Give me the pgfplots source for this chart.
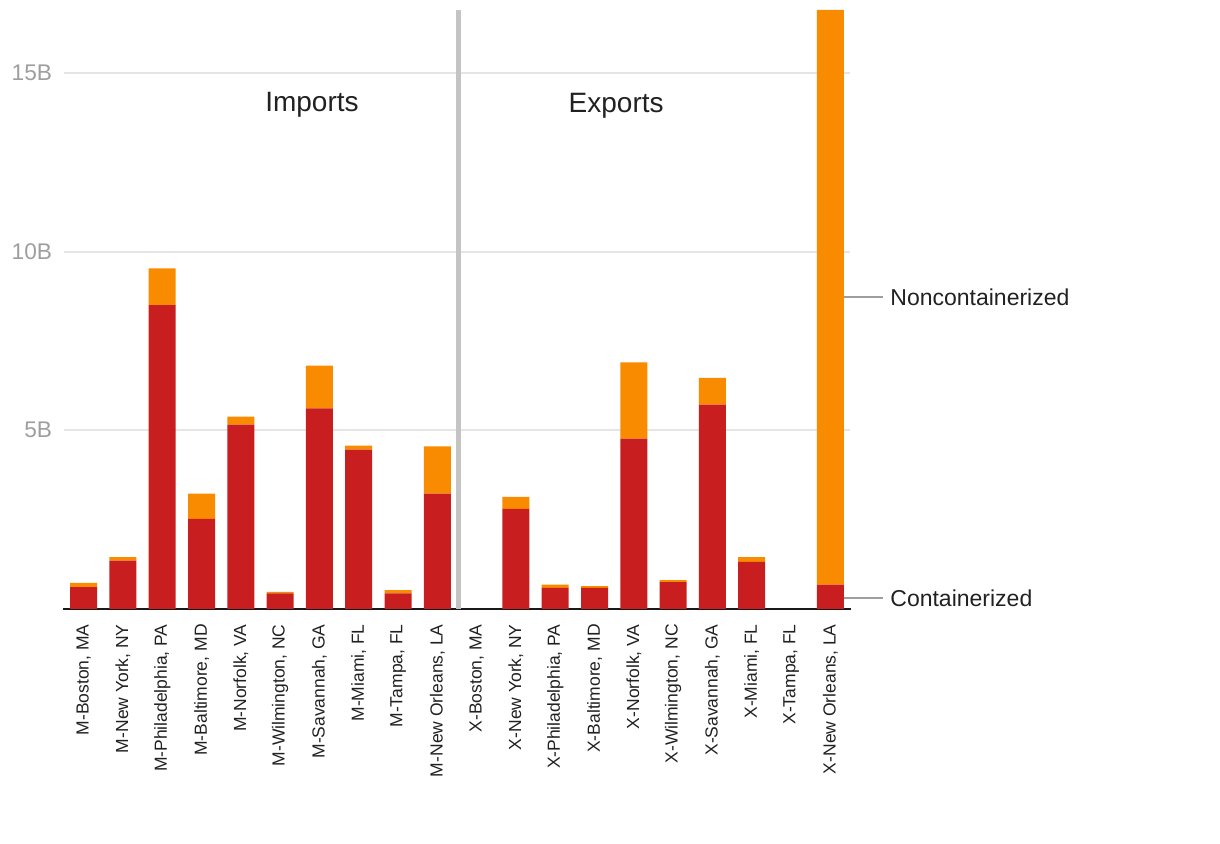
\documentclass[border=0pt]{standalone}
\usepackage{fontspec}
\setmainfont{Liberation Sans}
\usepackage{pgfplots}
\pgfplotsset{compat=1.18}
\definecolor{cred}{RGB}{200,30,31}
\definecolor{corange}{RGB}{248,139,0}
\definecolor{gridc}{RGB}{229,229,229}
\definecolor{tickg}{RGB}{158,158,158}
\definecolor{divc}{RGB}{196,196,196}
\definecolor{txt}{RGB}{33,33,33}
\begin{document}
\begin{tikzpicture}
\path[use as bounding box] (0,0) rectangle (732pt,506.4pt);
\begin{axis}[
 at={(38.4pt,141pt)}, anchor=south west,
 scale only axis, width=471.6pt, height=359.4pt,
 xmin=-0.5, xmax=19.5, ymin=0, ymax=16.76,
 ybar stacked, bar width=16.2pt,
 axis line style={draw=none}, major tick length=0pt,
 ymajorgrids, grid style={gridc, line width=1.1pt},
 ytick={5,10,15}, yticklabels={5B,10B,15B},
 yticklabel style={font=\fontsize{13.6}{13.6}\selectfont, text=tickg, inner sep=0pt, anchor=east},
 yticklabel shift=7pt,
 xtick={0,...,19},
 xticklabels={{M-Boston, MA},{M-New York, NY},{M-Philadelphia, PA},{M-Baltimore, MD},{M-Norfolk, VA},{M-Wilmington, NC},{M-Savannah, GA},{M-Miami, FL},{M-Tampa, FL},{M-New Orleans, LA},{X-Boston, MA},{X-New York, NY},{X-Philadelphia, PA},{X-Baltimore, MD},{X-Norfolk, VA},{X-Wilmington, NC},{X-Savannah, GA},{X-Miami, FL},{X-Tampa, FL},{X-New Orleans, LA}},
 xticklabel style={rotate=90, anchor=east, inner sep=0pt, font=\fontsize{10.5}{10.5}\selectfont, text=txt},
 xticklabel shift=9pt,
 clip=false,
]
\addplot[fill=cred, draw=none] coordinates {(0,0.61) (1,1.35) (2,8.50) (3,2.52) (4,5.16) (5,0.44) (6,5.61) (7,4.46) (8,0.44) (9,3.23) (10,0) (11,2.80) (12,0.59) (13,0.59) (14,4.77) (15,0.75) (16,5.72) (17,1.32) (18,0) (19,0.68)};
\addplot[fill=corange, draw=none] coordinates {(0,0.12) (1,0.10) (2,1.03) (3,0.71) (4,0.22) (5,0.04) (6,1.20) (7,0.11) (8,0.09) (9,1.32) (10,0) (11,0.34) (12,0.09) (13,0.05) (14,2.13) (15,0.06) (16,0.75) (17,0.13) (18,0) (19,16.08)};
\draw[line width=3pt, divc] (axis cs:9.54,0) -- (axis cs:9.54,16.76);
\draw[line width=1.2pt, black!90] (axis cs:-0.52,0) -- (axis cs:19.52,0);
\node[font=\fontsize{16.8}{16.8}\selectfont, text=txt] at (axis cs:5.81,14.12) {Imports};
\node[font=\fontsize{16.8}{16.8}\selectfont, text=txt] at (axis cs:13.55,14.08) {Exports};
\draw[tickg, line width=1pt] (axis cs:19.35,8.73) -- (axis cs:20.34,8.73);
\draw[tickg, line width=1pt] (axis cs:19.35,0.31) -- (axis cs:20.34,0.31);
\node[anchor=west, inner sep=0pt, font=\fontsize{13.8}{13.8}\selectfont, text=txt] at (axis cs:20.52,8.73) {Noncontainerized};
\node[anchor=west, inner sep=0pt, font=\fontsize{13.8}{13.8}\selectfont, text=txt] at (axis cs:20.52,0.31) {Containerized};
\end{axis}
\end{tikzpicture}
\end{document}
